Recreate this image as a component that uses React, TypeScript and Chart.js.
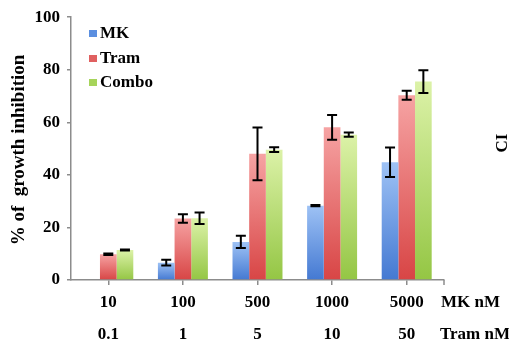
import React, { useEffect, useRef } from "react";
import { Chart, registerables } from "chart.js";

Chart.register(...registerables);

const mkLabels = ["10", "100", "500", "1000", "5000"];
const tramLabels = ["0.1", "1", "5", "10", "50"];
const seriesNames = ["MK", "Tram", "Combo"];
const mkValues: (number | null)[] = [null, 6.6, 14.5, 28.3, 44.8];
const tramValues = [9.8, 23.4, 48, 58.1, 70.3];
const comboValues = [11.4, 23.5, 49.6, 55.3, 75.5];
const mkErrors = [0, 1.1, 2.3, 0.2, 5.6];
const tramErrors = [0.3, 1.6, 10, 4.7, 1.7];
const comboErrors = [0.2, 2.2, 0.9, 0.8, 4.3];
const yTicks = [0, 20, 40, 60, 80, 100];
const yTitle = "% of  growth inhibition";
const rightTitle = "CI";
const rowTitles = ["MK nM", "Tram nM"];

const FONT = "'Liberation Serif', 'Times New Roman', serif";
const colorsTop = ["#9ec2f5", "#f6a3a3", "#dcf2a8"];
const colorsBottom = ["#4479d2", "#d84545", "#94c644"];
const legendColors = ["#5b8fe0", "#e06060", "#a6d45a"];

function gradientFor(idx: number) {
  return (ctx: any) => {
    const chart = ctx.chart;
    if (!chart.chartArea || ctx.raw == null) return legendColors[idx];
    const y = chart.scales.y;
    const top = y.getPixelForValue(ctx.raw);
    const bottom = y.getPixelForValue(0);
    if (!isFinite(top) || bottom - top < 1) return colorsBottom[idx];
    const g = chart.ctx.createLinearGradient(0, top, 0, bottom);
    g.addColorStop(0, colorsTop[idx]);
    g.addColorStop(1, colorsBottom[idx]);
    return g;
  };
}

const errorList = [mkErrors, tramErrors, comboErrors];

const extrasPlugin = {
  id: "extras",
  afterDatasetsDraw(chart: any) {
    const ctx = chart.ctx;
    const y = chart.scales.y;
    ctx.save();
    ctx.strokeStyle = "#000";
    ctx.lineWidth = 2;
    chart.data.datasets.forEach((ds: any, di: number) => {
      const meta = chart.getDatasetMeta(di);
      meta.data.forEach((el: any, i: number) => {
        const v = ds.data[i];
        const e = errorList[di][i];
        if (v == null) return;
        const x = el.x;
        const y1 = y.getPixelForValue(v + e);
        const y2 = y.getPixelForValue(v - e);
        ctx.beginPath();
        ctx.moveTo(x, y1);
        ctx.lineTo(x, y2);
        ctx.moveTo(x - 5, y1);
        ctx.lineTo(x + 5, y1);
        ctx.moveTo(x - 5, y2);
        ctx.lineTo(x + 5, y2);
        ctx.stroke();
      });
    });
    ctx.restore();
  },
  afterDraw(chart: any) {
    const ctx = chart.ctx;
    const x = chart.scales.x;
    ctx.save();
    // end tick of x axis
    ctx.strokeStyle = "#8c8c8c";
    ctx.lineWidth = 1.5;
    ctx.beginPath();
    ctx.moveTo(x.right, x.top);
    ctx.lineTo(x.right, x.top + 5);
    ctx.stroke();
    ctx.fillStyle = "#000";
    ctx.font = `bold 17px ${FONT}`;
    // legend
    ctx.textBaseline = "middle";
    ctx.textAlign = "left";
    const legendY = [33, 58, 82];
    seriesNames.forEach((n, i) => {
      ctx.fillStyle = legendColors[i];
      ctx.fillRect(89, legendY[i] - 3, 8, 7);
      ctx.fillStyle = "#000";
      ctx.fillText(n, 100, legendY[i] + 1);
    });
    // row titles
    ctx.fillText(rowTitles[0], 441, 303);
    ctx.fillText(rowTitles[1], 440, 335);
    // y title
    ctx.save();
    ctx.font = `bold 19px ${FONT}`;
    ctx.translate(19, 150);
    ctx.rotate(-Math.PI / 2);
    ctx.textAlign = "center";
    ctx.fillText(yTitle, 0, 0);
    ctx.restore();
    ctx.save();
    ctx.translate(503, 143);
    ctx.rotate(-Math.PI / 2);
    ctx.textAlign = "center";
    ctx.fillText(rightTitle, 0, 0);
    ctx.restore();
    ctx.restore();
  },
};

export default function App() {
  const ref = useRef<HTMLCanvasElement>(null);
  useEffect(() => {
    if (!ref.current) return;
    const labels = mkLabels.map((m, i) => [m, tramLabels[i]]);
    const chart = new Chart(ref.current, {
      type: "bar",
      data: {
        labels,
        datasets: [
          { label: seriesNames[0], data: mkValues, backgroundColor: gradientFor(0) },
          { label: seriesNames[1], data: tramValues, backgroundColor: gradientFor(1) },
          { label: seriesNames[2], data: comboValues, backgroundColor: gradientFor(2) },
        ],
      },
      options: {
        responsive: false,
        animation: false,
        devicePixelRatio: 1,
        layout: { padding: { top: 16, right: 65, left: 0, bottom: 0 } },
        datasets: { bar: { categoryPercentage: 0.67, barPercentage: 1 } } as any,
        plugins: { legend: { display: false }, tooltip: { enabled: false } },
        scales: {
          x: {
            grid: { display: true, drawOnChartArea: false, offset: false, tickLength: 5, color: "#8c8c8c", lineWidth: 1.5 },
            border: { color: "#8c8c8c", width: 1.5 },
            ticks: { color: "#000", padding: 2, font: { family: FONT, size: 17, weight: "bold", lineHeight: 1.88 }, maxRotation: 0 },
            afterFit: (s: any) => { s.height = 63; },
          },
          y: {
            min: 0,
            max: 100,
            afterBuildTicks: (s: any) => { s.ticks = yTicks.map((v) => ({ value: v })); },
            grid: { display: true, drawOnChartArea: false, tickLength: 4, color: "#8c8c8c", lineWidth: 1.5 },
            border: { color: "#8c8c8c", width: 1.5 },
            ticks: { color: "#000", padding: 7, font: { family: FONT, size: 17, weight: "bold" } },
            afterFit: (s: any) => { s.width = 71; },
          },
        },
      },
      plugins: [extrasPlugin],
    });
    return () => chart.destroy();
  }, []);
  return (
    <div style={{ position: "fixed", left: 0, top: 0, width: 509, height: 343, background: "#fff" }}>
      <canvas ref={ref} width={509} height={343} />
    </div>
  );
}
